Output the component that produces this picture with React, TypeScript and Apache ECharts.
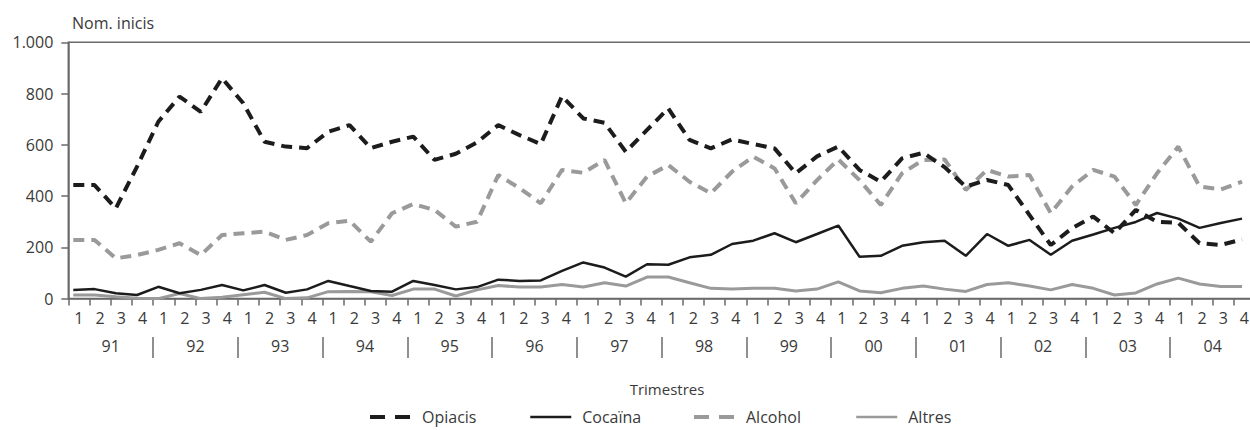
import React, { useEffect, useRef } from "react";
import * as echarts from "echarts";

const years = ["91", "92", "93", "94", "95", "96", "97", "98", "99", "00", "01", "02", "03", "04"];
const quarters = ["1", "2", "3", "4"];

const opiacis = [
  443, 443, 352, 515, 690, 788, 729, 860, 762, 612, 593, 587, 651, 677, 587, 612,
  632, 541, 565, 610, 677, 638, 603, 790, 703, 686, 573, 658, 742, 619, 586, 621,
  603, 586, 489, 555, 593, 502, 456, 547, 569, 513, 437, 463, 443, 326, 209, 275,
  320, 255, 346, 300, 296, 216, 209, 231,
];
const cocaina = [
  34, 37, 21, 14, 46, 21, 34, 53, 32, 53, 23, 36, 69, 49, 30, 27,
  69, 53, 36, 45, 74, 69, 71, 108, 141, 121, 86, 134, 132, 161, 171, 213,
  226, 255, 220, 252, 285, 163, 167, 206, 220, 226, 167, 252, 206, 229, 171, 226,
  250, 276, 299, 334, 312, 276, 295, 312,
];
const alcohol = [
  229, 229, 157, 170, 190, 216, 170, 248, 255, 261, 229, 248, 294, 304, 222, 333,
  369, 346, 281, 300, 482, 431, 372, 502, 491, 541, 372, 476, 521, 456, 411, 495,
  554, 508, 372, 462, 543, 462, 365, 489, 541, 543, 424, 502, 476, 482, 333, 437,
  502, 476, 365, 489, 593, 437, 426, 456,
];
const altres = [
  14, 14, 7, 1, 0, 20, 0, 5, 15, 25, 0, 3, 27, 28, 27, 12,
  37, 37, 10, 34, 51, 45, 45, 55, 45, 62, 49, 84, 84, 62, 40, 37,
  40, 40, 30, 37, 65, 30, 23, 40, 49, 37, 28, 55, 62, 49, 34, 55,
  40, 14, 22, 57, 80, 57, 47, 47,
];

const seriesNames = ["Opiacis", "Cocaïna", "Alcohol", "Altres"];
const yTicks = [0, 200, 400, 600, 800, 1000];

const FONT = "'Open Sans', 'Noto Sans', sans-serif";
const TXT = "#3a3a3a";
const AXIS = "#6a6a6a";
const DARK = "#1c1c1c";
const GREY = "#9a9a9a";

export default function App() {
  const ref = useRef<HTMLDivElement>(null);
  useEffect(() => {
    if (!ref.current) return;
    const chart = echarts.init(ref.current, undefined, { renderer: "svg" });
    const qCats: string[] = [];
    years.forEach((y) => quarters.forEach((q) => qCats.push(y + "-" + q)));
    const pairs = (arr: number[]) => arr.map((v, i) => [i, v]);
    const fmt = (v: number) => String(v).replace(/\B(?=(\d{3})+(?!\d))/g, ".");
    const legendLefts = [363, 524, 687, 850];
    const legendDashed = [true, false, true, false];
    const legends = seriesNames.map((name, i) => ({
      left: legendLefts[i],
      top: 404,
      itemWidth: 41,
      itemHeight: 14,
      data: [name],
      itemStyle: { opacity: 0 },
      lineStyle: legendDashed[i] ? { type: [15, 10], width: 4 } : { width: 2.5 },
      formatter: (n: string) => "{t|" + n + "}",
      textStyle: {
        fontFamily: FONT,
        fontSize: 16,
        color: TXT,
        rich: { t: { fontFamily: FONT, fontSize: 16, color: TXT, padding: [0, 0, 0, 6] } },
      },
    }));
    const option: any = {
      animation: false,
      backgroundColor: "#fff",
      textStyle: { fontFamily: FONT },
      title: [
        {
          text: "Nom. inicis",
          left: 67,
          top: 10,
          textStyle: { fontFamily: FONT, fontSize: 16, fontWeight: "normal", color: TXT },
        },
        {
          text: "Trimestres",
          left: 662,
          textAlign: "center",
          top: 376,
          textStyle: { fontFamily: FONT, fontSize: 15, fontWeight: "normal", color: TXT },
        },
      ],
      legend: legends,
      grid: {
        left: 68.3,
        top: 42.3,
        right: 0,
        bottom: 430 - 298.6,
        show: true,
        borderColor: AXIS,
        borderWidth: 1.5,
      },
      xAxis: [
        {
          type: "category",
          data: qCats,
          boundaryGap: true,
          position: "bottom",
          axisLine: { show: true, onZero: false, lineStyle: { color: AXIS, width: 1.5 } },
          axisTick: { show: true, length: 7, interval: 0, lineStyle: { color: AXIS, width: 1.5 } },
          axisLabel: {
            interval: 0,
            margin: 11,
            fontSize: 16,
            color: TXT,
            fontFamily: FONT,
            formatter: (v: string) => v.split("-")[1],
          },
          splitLine: { show: false },
        },
        {
          type: "category",
          data: years,
          boundaryGap: true,
          position: "bottom",
          offset: 38.4,
          axisLine: { show: false, onZero: false },
          axisTick: {
            show: true,
            length: 21,
            interval: (i: number) => i !== 0,
            lineStyle: { color: AXIS, width: 1.5 },
          },
          axisLabel: { interval: 0, margin: 1, fontSize: 16, color: TXT, fontFamily: FONT },
          splitLine: { show: false },
        },
        {
          type: "value",
          min: -0.235,
          max: 55.61,
          show: false,
          axisLine: { onZero: false },
          splitLine: { show: false },
        },
      ],
      yAxis: {
        type: "value",
        min: 0,
        max: 1000,
        interval: 200,
        axisLine: { show: true, onZero: false, lineStyle: { color: AXIS, width: 1.5 } },
        axisTick: { show: true, length: 7, lineStyle: { color: AXIS, width: 1.5 } },
        axisLabel: {
          margin: 15,
          fontSize: 16,
          color: TXT,
          fontFamily: FONT,
          formatter: (v: number) => (yTicks.includes(v) ? fmt(v) : ""),
        },
        splitLine: { show: false },
      },
      series: [
        {
          name: seriesNames[0],
          type: "line",
          xAxisIndex: 2,
          data: pairs(opiacis),
          symbol: "none",
          color: DARK,
          lineStyle: { color: DARK, width: 4, type: [11, 7] },
          z: 4,
        },
        {
          name: seriesNames[1],
          type: "line",
          xAxisIndex: 2,
          data: pairs(cocaina),
          symbol: "none",
          color: DARK,
          lineStyle: { color: DARK, width: 2.5 },
          z: 3,
        },
        {
          name: seriesNames[2],
          type: "line",
          xAxisIndex: 2,
          data: pairs(alcohol),
          symbol: "none",
          color: GREY,
          lineStyle: { color: GREY, width: 4, type: [11, 7] },
          z: 2,
        },
        {
          name: seriesNames[3],
          type: "line",
          xAxisIndex: 2,
          data: pairs(altres),
          symbol: "none",
          color: GREY,
          lineStyle: { color: GREY, width: 3 },
          z: 1,
        },
      ],
    };
    chart.setOption(option);
    return () => chart.dispose();
  }, []);
  return (
    <div
      ref={ref}
      style={{ position: "fixed", left: 0, top: 0, width: 1255, height: 430, background: "#fff" }}
    />
  );
}
